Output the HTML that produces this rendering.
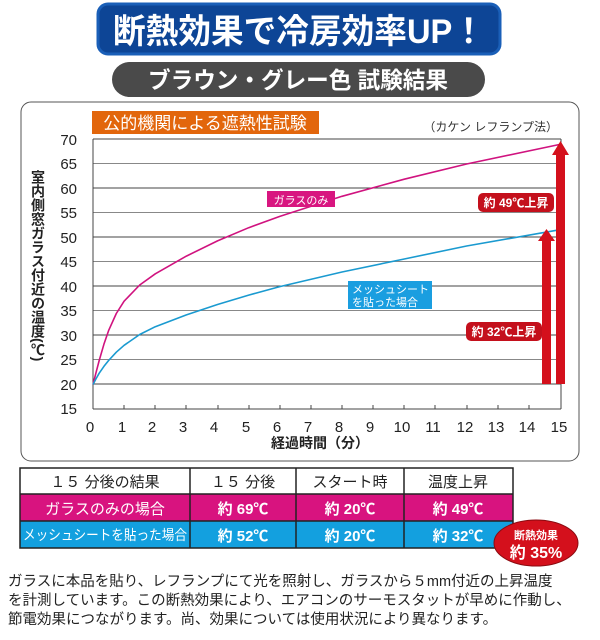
<!DOCTYPE html>
<html><head><meta charset="utf-8"><style>
body{margin:0;width:600px;height:640px;background:#fff;overflow:hidden}
svg{display:block}
text{font-family:"Liberation Sans","Noto Sans CJK JP",sans-serif}
</style></head><body>
<svg width="600" height="640" viewBox="0 0 600 640" xmlns="http://www.w3.org/2000/svg">
<!-- title -->
<rect x="98" y="4" width="402" height="50" rx="10" fill="#0d4596" stroke="#1a5fb8" stroke-width="3"/>
<text x="299" y="43" text-anchor="middle" font-size="34" font-weight="bold" fill="#fff" textLength="372" lengthAdjust="spacingAndGlyphs">断熱効果で冷房効率UP！</text>
<rect x="112" y="62" width="373" height="35" rx="17.5" fill="#4a4a4a"/>
<text x="298" y="88" text-anchor="middle" font-size="23" font-weight="bold" fill="#fff" textLength="300" lengthAdjust="spacingAndGlyphs">ブラウン・グレー色 試験結果</text>
<!-- panel -->
<rect x="21" y="102" width="558" height="359" rx="10" fill="#fff" stroke="#555" stroke-width="1"/>
<rect x="92" y="111" width="227" height="23" fill="#e2660c"/>
<text x="205" y="129" text-anchor="middle" font-size="17" fill="#fff">公的機関による遮熱性試験</text>
<text x="558" y="131" text-anchor="end" font-size="12" fill="#333">（カケン レフランプ法）</text>
<!-- grid -->
<g stroke="#444" stroke-width="1">
<line x1="93" y1="139" x2="561" y2="139"/><line x1="93" y1="163.5" x2="561" y2="163.5" stroke="#888"/>
<line x1="93" y1="188" x2="561" y2="188"/><line x1="93" y1="212.5" x2="561" y2="212.5" stroke="#888"/>
<line x1="93" y1="237" x2="561" y2="237"/><line x1="93" y1="261.5" x2="561" y2="261.5" stroke="#888"/>
<line x1="93" y1="286" x2="561" y2="286"/><line x1="93" y1="310.5" x2="561" y2="310.5" stroke="#888"/>
<line x1="93" y1="335" x2="561" y2="335"/><line x1="93" y1="359.5" x2="561" y2="359.5" stroke="#888"/>
<line x1="93" y1="384" x2="561" y2="384"/>
<line x1="93" y1="409" x2="561" y2="409"/>
<line x1="93" y1="139" x2="93" y2="409"/><line x1="561" y1="139" x2="561" y2="409"/>
</g>
<g stroke="#444" stroke-width="1">
<line x1="124" y1="405" x2="124" y2="409"/><line x1="155" y1="405" x2="155" y2="409"/><line x1="186" y1="405" x2="186" y2="409"/><line x1="218" y1="405" x2="218" y2="409"/><line x1="249" y1="405" x2="249" y2="409"/><line x1="280" y1="405" x2="280" y2="409"/><line x1="311" y1="405" x2="311" y2="409"/><line x1="342" y1="405" x2="342" y2="409"/><line x1="373" y1="405" x2="373" y2="409"/><line x1="404" y1="405" x2="404" y2="409"/><line x1="435" y1="405" x2="435" y2="409"/><line x1="467" y1="405" x2="467" y2="409"/><line x1="498" y1="405" x2="498" y2="409"/><line x1="529" y1="405" x2="529" y2="409"/>
</g>
<g font-size="15" fill="#222" text-anchor="end">
<text x="77" y="145">70</text><text x="77" y="169">65</text><text x="77" y="194">60</text><text x="77" y="218">55</text><text x="77" y="243">50</text><text x="77" y="267">45</text><text x="77" y="292">40</text><text x="77" y="316">35</text><text x="77" y="341">30</text><text x="77" y="365">25</text><text x="77" y="390">20</text><text x="77" y="414">15</text>
</g>
<g font-size="15" fill="#222" text-anchor="middle">
<text x="90" y="432">0</text><text x="122" y="432">1</text><text x="152" y="432">2</text><text x="183" y="432">3</text><text x="214" y="432">4</text><text x="246" y="432">5</text><text x="277" y="432">6</text><text x="308" y="432">7</text><text x="339" y="432">8</text><text x="370" y="432">9</text><text x="402" y="432">10</text><text x="433" y="432">11</text><text x="465" y="432">12</text><text x="496" y="432">13</text><text x="527" y="432">14</text><text x="559" y="432">15</text>
</g>
<text x="320" y="448" text-anchor="middle" font-size="14" font-weight="bold" fill="#222">経過時間（分）</text>
<text font-size="14" font-weight="bold" fill="#222" x="38" y="170" style="writing-mode:vertical-rl">室内側窓ガラス付近の温度(℃)</text>
<!-- curves -->
<polyline fill="none" stroke="#d0137f" stroke-width="1.6" stroke-linejoin="round" points="93,384.5 96.1,372.3 99.2,360.5 103.9,344.3 108.6,330.6 116.3,313.5 124.1,301.2 139.7,285 155.3,273.8 186.4,256.1 217.5,240.9 248.7,227.7 279.8,216.4 342,196.3 404.3,179.2 466.6,164 560,144.4"/>
<polyline fill="none" stroke="#1a9ad0" stroke-width="1.6" stroke-linejoin="round" points="93,384.5 96.1,378.6 99.2,373.2 103.9,366.4 108.6,360.5 116.3,352.2 124.1,345.3 139.7,334.5 155.3,326.7 186.4,314.9 217.5,304.5 248.7,295.1 279.8,286.6 342,272 404.3,259 466.6,246 560,229.7"/>
<rect x="267" y="191" width="68" height="16" fill="#d81680"/>
<text x="301" y="204" text-anchor="middle" font-size="11" fill="#fff">ガラスのみ</text>
<rect x="348" y="281" width="84" height="28" fill="#1a9ee0"/>
<text x="352" y="293" font-size="11" fill="#fff">メッシュシート</text>
<text x="352" y="306" font-size="11" fill="#fff">を貼った場合</text>
<!-- arrows -->
<rect x="556" y="154" width="9" height="230" fill="#d4101c"/>
<polygon points="560.5,141 552,155 569,155" fill="#d4101c"/>
<rect x="542" y="240" width="9" height="144" fill="#d4101c"/>
<polygon points="546.5,229 538,241 555,241" fill="#d4101c"/>
<rect x="478" y="193" width="76" height="19" rx="5" fill="#c4101c"/>
<text x="516" y="207" text-anchor="middle" font-size="12" font-weight="bold" fill="#fff">約 49℃上昇</text>
<rect x="466" y="322" width="76" height="19" rx="5" fill="#c4101c"/>
<text x="504" y="336" text-anchor="middle" font-size="12" font-weight="bold" fill="#fff">約 32℃上昇</text>
<!-- table -->
<rect x="20" y="468" width="493" height="26" fill="#fff"/>
<rect x="20" y="494" width="493" height="27" fill="#d8137f"/>
<rect x="20" y="521" width="493" height="27" fill="#13a0df"/>
<g stroke="#222" stroke-width="1.5" fill="none">
<rect x="20" y="468" width="493" height="80"/>
<line x1="20" y1="494" x2="513" y2="494"/><line x1="20" y1="521" x2="513" y2="521"/>
<line x1="190" y1="468" x2="190" y2="548"/><line x1="296" y1="468" x2="296" y2="548"/><line x1="404" y1="468" x2="404" y2="548"/>
</g>
<g font-size="15" text-anchor="middle" fill="#222">
<text x="105" y="487">１５ 分後の結果</text><text x="243" y="487">１５ 分後</text><text x="350" y="487">スタート時</text><text x="458" y="487">温度上昇</text>
</g>
<g font-size="15" text-anchor="middle" fill="#fff">
<text x="105" y="514">ガラスのみの場合</text><text x="105" y="540" font-size="14" textLength="164" lengthAdjust="spacingAndGlyphs">メッシュシートを貼った場合</text>
</g>
<g font-size="15" font-weight="bold" text-anchor="middle" fill="#fff">
<text x="243" y="514">約 69℃</text><text x="350" y="514">約 20℃</text><text x="458" y="514">約 49℃</text>
<text x="243" y="541">約 52℃</text><text x="350" y="541">約 20℃</text><text x="458" y="541">約 32℃</text>
</g>
<ellipse cx="536" cy="543" rx="42" ry="23" fill="#d4101c" stroke="#8a0a10" stroke-width="1"/>
<text x="536" y="539" text-anchor="middle" font-size="11" font-weight="bold" fill="#fff">断熱効果</text>
<text x="536" y="558" text-anchor="middle" font-size="16" font-weight="bold" fill="#fff">約 35%</text>
<!-- paragraph -->
<g font-size="14.5" fill="#222">
<text x="8" y="586">ガラスに本品を貼り、レフランプにて光を照射し、ガラスから５mm付近の上昇温度</text>
<text x="8" y="605">を計測しています。この断熱効果により、エアコンのサーモスタットが早めに作動し、</text>
<text x="8" y="624">節電効果につながります。尚、効果については使用状況により異なります。</text>
</g>
</svg>
</body></html>
